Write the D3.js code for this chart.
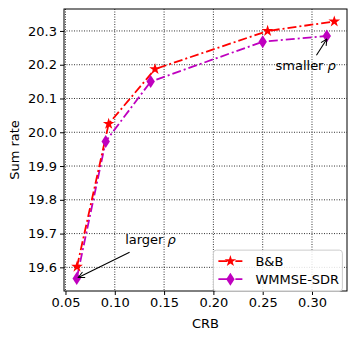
<!DOCTYPE html>
<html>
<head>
<meta charset="utf-8">
<script src="https://cdn.jsdelivr.net/npm/d3@7"></script>
<style>
  body { margin: 0; background: #fff; }
  text { font-family: "DejaVu Sans", sans-serif; }
</style>
</head>
<body>
<div id="chart"></div>
<script>
// Data
const crbBB = [0.0617, 0.0938, 0.1408, 0.255, 0.3226];
const rateBB = [19.602, 20.025, 20.187, 20.300, 20.328];
const crbWM = [0.0614, 0.0908, 0.1364, 0.250, 0.315];
const rateWM = [19.567, 19.973, 20.150, 20.268, 20.285];
const xTicks = [0.05, 0.10, 0.15, 0.20, 0.25, 0.30];
const yTicks = [19.6, 19.7, 19.8, 19.9, 20.0, 20.1, 20.2, 20.3];

const W = 357, H = 339;
const margin = {top: 9, right: 10, bottom: 48, left: 64},
    width = W - margin.left - margin.right,
    height = H - margin.top - margin.bottom;

const svg = d3.select("#chart").append("svg")
    .attr("width", W).attr("height", H)
  .append("g")
    .attr("transform", `translate(${margin.left},${margin.top})`);

const x = d3.scaleLinear().domain([0.0485, 0.3355]).range([0, width]);
const y = d3.scaleLinear().domain([19.53, 20.365]).range([height, 0]);

// Grid
svg.append("g").selectAll("line.gx").data(xTicks).enter().append("line")
    .attr("x1", d => x(d)).attr("x2", d => x(d))
    .attr("y1", 0).attr("y2", height)
    .attr("stroke", "#000").attr("stroke-width", 0.8).attr("stroke-dasharray", "1,1.5");
svg.append("g").selectAll("line.gy").data(yTicks).enter().append("line")
    .attr("x1", 0).attr("x2", width)
    .attr("y1", d => y(d)).attr("y2", d => y(d))
    .attr("stroke", "#000").attr("stroke-width", 0.8).attr("stroke-dasharray", "1,1.5");

// Axes
const xAxis = svg.append("g")
    .attr("transform", `translate(0,${height})`)
    .call(d3.axisBottom(x).tickValues(xTicks).tickFormat(d3.format(".2f")).tickSize(4).tickPadding(3));
const yAxis = svg.append("g")
    .call(d3.axisLeft(y).tickValues(yTicks).tickFormat(d3.format(".1f")).tickSize(4).tickPadding(3));
[xAxis, yAxis].forEach(a => {
  a.selectAll("text").style("font-size", "13px").attr("fill", "#000");
  a.selectAll("line").attr("stroke", "#000");
  a.select(".domain").remove();
});

svg.append("rect").attr("width", width).attr("height", height)
    .attr("fill", "none").attr("stroke", "#000").attr("stroke-width", 1);

svg.append("text")
    .attr("x", width / 2).attr("y", height + 37)
    .attr("text-anchor", "middle").style("font-size", "13px")
    .text("CRB");
svg.append("text")
    .attr("transform", "rotate(-90)")
    .attr("x", -height / 2).attr("y", -45)
    .attr("text-anchor", "middle").style("font-size", "13px")
    .text("Sum rate");

// Lines
const line = d3.line().x(d => x(d[0])).y(d => y(d[1]));
const bb = crbBB.map((c, i) => [c, rateBB[i]]);
const wm = crbWM.map((c, i) => [c, rateWM[i]]);

const star = d3.symbol().type(d3.symbolStar).size(42);
const diamond = "M0,-6.5L4.2,0L0,6.5L-4.2,0Z";
const red = "#ff0000", mag = "#bf00bf";

svg.append("path").datum(wm).attr("d", line)
    .attr("fill", "none").attr("stroke", mag).attr("stroke-width", 1.8)
    .attr("stroke-dasharray", "9,3,2,3");
svg.append("path").datum(bb).attr("d", line)
    .attr("fill", "none").attr("stroke", red).attr("stroke-width", 1.8)
    .attr("stroke-dasharray", "9,3,2,3");

svg.selectAll("path.wm").data(wm).enter().append("path")
    .attr("class", "wm")
    .attr("transform", d => `translate(${x(d[0])},${y(d[1])})`)
    .attr("d", diamond).attr("fill", mag);
svg.selectAll("path.bb").data(bb).enter().append("path")
    .attr("class", "bb")
    .attr("transform", d => `translate(${x(d[0])},${y(d[1])})`)
    .attr("d", star).attr("fill", red);

// Annotations
const defs = svg.append("defs");
defs.append("marker").attr("id", "arr")
    .attr("viewBox", "0 0 10 10").attr("refX", 9).attr("refY", 5)
    .attr("markerWidth", 7).attr("markerHeight", 7).attr("orient", "auto")
  .append("path").attr("d", "M1,1L9,5L1,9").attr("fill", "none").attr("stroke", "#000").attr("stroke-width", 1.3);

function annotate(tx, ty, fromX, fromY, toX, toY, word) {
  const t = svg.append("text").attr("x", x(tx)).attr("y", y(ty)).style("font-size", "13px");
  t.append("tspan").text(word + " ");
  t.append("tspan").style("font-style", "italic").text("ρ");
  svg.append("line")
      .attr("x1", x(fromX)).attr("y1", y(fromY))
      .attr("x2", x(toX)).attr("y2", y(toY))
      .attr("stroke", "#000").attr("stroke-width", 1.1)
      .attr("marker-end", "url(#arr)");
}
annotate(0.263, 20.183, 0.3045, 20.228, 0.3151, 20.276, "smaller");
annotate(0.1105, 19.668, 0.115, 19.645, 0.0630, 19.570, "larger");

// Legend
const lg = svg.append("g").attr("transform", `translate(${x(0.2)},${y(19.651)})`);
lg.append("rect").attr("width", 129).attr("height", 41).attr("rx", 3)
    .attr("fill", "#fff").attr("fill-opacity", 0.85).attr("stroke", "#ccc");
const items = [
  {name: "B&B", color: red, mark: "star"},
  {name: "WMMSE-SDR", color: mag, mark: "diamond"}
];
items.forEach((it, i) => {
  const yy = 11 + i * 18;
  lg.append("line").attr("x1", 5).attr("x2", 29).attr("y1", yy).attr("y2", yy)
      .attr("stroke", it.color).attr("stroke-width", 1.8).attr("stroke-dasharray", "9,3,2,3");
  lg.append("path").attr("transform", `translate(17,${yy})`)
      .attr("d", it.mark === "star" ? star() : diamond).attr("fill", it.color);
  lg.append("text").attr("x", 42).attr("y", yy).attr("dy", "0.35em")
      .style("font-size", "13px").text(it.name);
});
</script>
</body>
</html>
